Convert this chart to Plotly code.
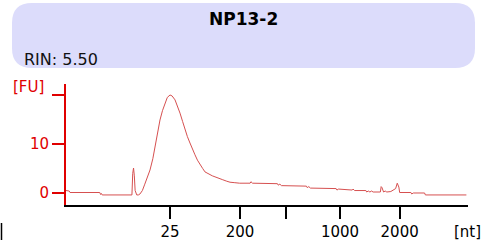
import plotly.graph_objects as go

# migration time (s) and fluorescence (FU)
time_s = [20.0, 20.4, 20.5, 24.2, 24.3, 24.4, 24.5, 28.2, 28.3, 28.4, 28.5, 28.6, 28.8, 29.0,
          29.2, 29.5, 29.8, 30.1, 30.45, 30.8, 31.07, 31.4, 31.69, 32.0, 32.31, 32.6, 32.94,
          33.2, 33.56, 33.9, 34.18, 34.5, 34.8, 35.1, 35.42, 35.7, 36.04, 36.35, 36.67, 37.0,
          37.29, 37.6, 37.91, 38.2, 38.53, 38.8, 39.15, 39.5, 40.0, 40.4, 41.0, 41.6, 42.9,
          43.0, 43.2, 46.3, 46.4, 46.6, 46.8, 49.9, 50.0, 50.2, 50.4, 53.6, 53.7, 53.9, 55.6,
          55.7, 55.9, 57.3, 57.4, 57.6, 57.8, 58.0, 58.2, 59.1, 59.2, 59.3, 59.5, 59.7, 59.9,
          60.4, 61.0, 61.2, 61.4, 61.5, 62.9, 63.0, 63.2, 64.6, 64.7, 69.8]
fu = [0.5, 0.4, 0.1, 0.1, -0.3, -0.1, -0.4, -0.4, 4.0, 5.1, 3.5, 0.5, -0.4, -0.4,
      -0.2, 0.5, 1.8, 3.2, 4.7, 7.0, 9.4, 12.3, 14.9, 16.8, 18.4, 19.5, 20.0,
      19.8, 19.0, 17.7, 16.3, 14.6, 12.9, 11.5, 10.2, 9.0, 7.8, 6.7, 5.7, 5.0,
      4.3, 4.0, 3.7, 3.5, 3.3, 3.1, 2.9, 2.7, 2.4, 2.2, 2.1, 2.0, 2.0,
      2.3, 2.0, 1.9, 1.6, 1.8, 1.5, 1.4, 1.1, 1.3, 1.0, 0.9, 0.6, 0.8, 0.6,
      0.8, 0.5, 0.5, 0.2, 0.4, 0.2, 0.4, 0.2, 0.2, 1.3, 1.1, 0.2, 0.4, 0.2,
      0.3, 0.9, 2.0, 1.2, 0.1, 0.1, -0.2, 0.0, 0.0, -0.4, -0.4]

x_tick_vals = [32.94, 41.64, 47.4, 54.08, 61.5]
x_tick_text = ["25", "200", "", "1000", "2000"]
y_tick_vals = [0, 10, 20]
y_tick_text = ["0", "10", ""]

sample_name = "NP13-2"
rin_text = "RIN: 5.50"

FONT = "DejaVu Sans"
RED = "#e00000"

fig = go.Figure()
fig.add_trace(go.Scatter(x=time_s, y=fu, mode="lines",
                         line=dict(color="#d65050", width=1, shape="linear"),
                         hoverinfo="skip", showlegend=False))

# rounded title box in paper coords
W, H = 402.0, 121.0
def px(x):
    return (x - 66) / W
def py(y):
    return (205 - y) / H
x0, x1, y0, y1 = px(12), px(475), py(68), py(3)
rx, ry = 20 / W, 20 / H
path = (f"M {x0+rx},{y1} L {x1-rx},{y1} Q {x1},{y1} {x1},{y1-ry} "
        f"L {x1},{y0+ry} Q {x1},{y0} {x1-rx},{y0} L {x0+rx},{y0} "
        f"Q {x0},{y0} {x0},{y0+ry} L {x0},{y1-ry} Q {x0},{y1} {x0+rx},{y1} Z")
fig.add_shape(type="path", path=path, xref="paper", yref="paper",
              fillcolor="#dcdcfb", line=dict(width=0), layer="below")
fig.add_shape(type="line", xref="paper", yref="paper",
              x0=px(1.5), x1=px(1.5), y0=py(223), y1=py(240),
              line=dict(color="black", width=1.5))

def label(text, x, y, size, color, xanchor="center"):
    fig.add_annotation(text=text, xref="paper", yref="paper",
                       x=px(x), y=py(y), xanchor=xanchor, yanchor="middle",
                       showarrow=False, font=dict(family=FONT, size=size, color=color))

label(f"<b>{sample_name}</b>", 243, 19, 17, "black")
label(rin_text, 22, 59, 16, "#111111", "left")
label("[FU]", 11, 87, 15, RED, "left")
label("[nt]", 467, 232, 15, "black")

fig.update_layout(
    width=490, height=246,
    margin=dict(l=66, r=22, t=84, b=41, autoexpand=False),
    paper_bgcolor="white", plot_bgcolor="white",
    xaxis=dict(range=[20, 70], showgrid=False, zeroline=False, automargin=False,
               showline=True, linecolor="black", linewidth=2,
               ticks="outside", ticklen=12, tickwidth=2, tickcolor="black",
               tickvals=x_tick_vals, ticktext=x_tick_text,
               tickfont=dict(family=FONT, size=15, color="black")),
    yaxis=dict(range=[-2.45, 22.24], showgrid=False, zeroline=False, automargin=False,
               showline=True, linecolor=RED, linewidth=2,
               ticks="outside", ticklen=12, tickwidth=2, tickcolor=RED,
               tickvals=y_tick_vals, ticktext=y_tick_text,
               tickfont=dict(family=FONT, size=15, color=RED)),
)

fig.write_html("out.html", config={"displayModeBar": False},
               post_script="document.body.style.margin='0';document.body.style.overflow='hidden';")
